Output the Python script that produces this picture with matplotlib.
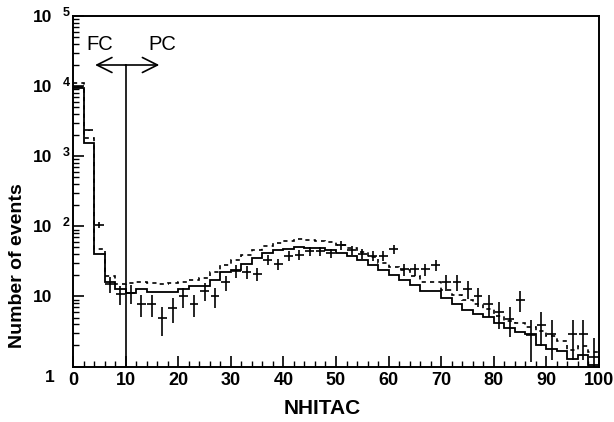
import numpy as np
import matplotlib
matplotlib.use("Agg")
import matplotlib.pyplot as plt
from matplotlib.ticker import FixedLocator, LogLocator, MultipleLocator, NullFormatter
from matplotlib.transforms import ScaledTranslation, blended_transform_factory

plt.rcParams['font.family'] = ['Liberation Sans', 'DejaVu Sans']

# Bin edges: 50 bins of width 2 over NHITAC 0..100
bin_edges = np.arange(0, 101, 2)

# Monte Carlo expectation (solid)
mc_solid = [9550, 1520, 40.7, 16.3, 12.8, 11.1, 12.7, 11.6, 11.6, 11.4,
            12.8, 13.9, 14.3, 16.9, 22.0, 24.0, 29.0, 35.3, 41.5, 46.5,
            48.0, 50.6, 49.6, 49.0, 45.4, 42.0, 38.0, 33.0, 28.5, 24.0,
            20.4, 17.3, 14.6, 11.8, 11.8, 9.5, 7.9, 6.5, 5.6, 5.05,
            4.2, 3.6, 3.08, 2.95, 2.0, 1.8, 1.65, 1.27, 1.46, 1.05]

# Monte Carlo expectation, alternative (dashed)
mc_dashed = [11200, 1830, 47.0, 19.3, 15.0, 15.5, 15.8, 15.3, 14.8, 15.3,
             16.1, 17.1, 18.2, 22.4, 28.3, 32.6, 38.4, 46.5, 52.8, 57.9,
             60.7, 65.8, 64.4, 60.7, 59.1, 54.6, 49.0, 43.0, 36.0, 30.0,
             26.0, 23.5, 19.3, 15.8, 15.8, 12.4, 10.5, 9.0, 7.8, 6.6,
             5.3, 4.5, 4.15, 3.7, 3.2, 2.7, 2.3, 1.7, 1.95, 1.6]

# Observed events at bin centres
data_x = [1, 3, 5, 7, 9, 11, 13, 15, 17, 19,
          21, 23, 25, 27, 29, 31, 33, 35, 37, 39,
          41, 43, 45, 47, 49, 51, 53, 55, 57, 59,
          61, 63, 65, 67, 69, 71, 73, 75, 77, 79,
          81, 83, 85, 87, 89, 91, 95, 97, 99]
data_y = [9800, 2350, 105, 15.1, 10.9, 11.1, 7.8, 7.8, 4.9, 6.8,
          10.0, 7.8, 12.0, 10.0, 15.8, 23.0, 22.3, 20.9, 33.5, 28.9,
          38.2, 39.5, 44.8, 43.9, 41.5, 54.0, 45.5, 40.7, 38.2, 38.2,
          47.4, 24.5, 24.5, 24.5, 28.0, 16.0, 16.0, 12.8, 10.2, 7.8,
          5.9, 4.8, 8.9, 2.85, 3.92, 2.95, 2.95, 2.95, 1.38]

x_ticks = [0, 10, 20, 30, 40, 50, 60, 70, 80, 90, 100]
y_ticks = [1, 10, 1e2, 1e3, 1e4, 1e5]
y_tick_labels = ['1', '10', '10', '10', '10', '10']
y_exponents = ['', '', '2', '3', '4', '5']

fc_pc_cut = 10
arrow_level = 2.0e4

W, H = 614, 422
fig = plt.figure(figsize=(W / 100, H / 100), dpi=100)
L, R, T, B = 73, 599, 16, 366.5
ax = fig.add_axes([L / W, 1 - B / H, (R - L) / W, (B - T) / H])

ax.set_xlim(0, 100)
ax.set_yscale('log')
ax.set_ylim(1, 1e5)

# histograms
ax.stairs(mc_solid, bin_edges, baseline=None, color='black', lw=1.3)
ax.stairs(mc_dashed, bin_edges, baseline=None, color='black', lw=1.2,
          linestyle=(0, (2.5, 2.5)))

# data with Poisson errors
dy = np.sqrt(np.array(data_y))
ax.errorbar(data_x, data_y, yerr=dy, xerr=0.85, fmt='none',
            ecolor='black', elinewidth=1.2, capsize=0)

# FC / PC separation
ax.plot([fc_pc_cut, fc_pc_cut], [1, arrow_level], color='black', lw=1.2)
for x_end in (4.2, 16.4):
    ax.annotate('', xy=(x_end, arrow_level), xytext=(fc_pc_cut, arrow_level),
                arrowprops=dict(arrowstyle='->', lw=1.2, color='black',
                                mutation_scale=27, shrinkA=0, shrinkB=0))
ax.text(5.05, 3.9e4, 'FC', fontsize=14.5, ha='center', va='center')
ax.text(17.05, 3.9e4, 'PC', fontsize=14.5, ha='center', va='center')

# axes styling
for s in ax.spines.values():
    s.set_linewidth(1.4)

ax.xaxis.set_major_locator(FixedLocator(x_ticks))
ax.xaxis.set_minor_locator(MultipleLocator(2))
ax.set_xticklabels([str(v) for v in x_ticks], fontweight='bold', fontsize=13)

ax.yaxis.set_major_locator(FixedLocator(y_ticks))
ax.yaxis.set_minor_locator(LogLocator(base=10, subs=np.arange(2, 10)))
ax.yaxis.set_minor_formatter(NullFormatter())
ax.set_yticklabels(y_tick_labels, fontweight='bold', fontsize=12.5)

ax.tick_params(axis='both', which='both', direction='in', top=False, right=False)
ax.tick_params(axis='both', which='major', length=8, width=1.2)
ax.tick_params(axis='both', which='minor', length=4.5, width=1.0)
ax.tick_params(axis='x', pad=4)
ax.tick_params(axis='y', pad=15)

# push the "1" label down a little, clear of the x labels
lab1 = ax.get_yticklabels()[0]
lab1.set_transform(lab1.get_transform() + ScaledTranslation(0.02, -0.09, fig.dpi_scale_trans))

# exponents of the decade labels
tr = blended_transform_factory(ax.transAxes, ax.transData)
for yv, ex in zip(y_ticks, y_exponents):
    if ex:
        ax.text(-10 / (R - L), yv, ex, transform=tr, fontsize=9,
                fontweight='bold', ha='left', va='baseline')

ax.set_xlabel('NHITAC', fontsize=15, fontweight='bold')
ax.xaxis.set_label_coords((322.5 - L) / (R - L), -(408 - B) / (B - T))
ax.xaxis.label.set_va('center')
ax.set_ylabel('Number of events', fontsize=14, fontweight='bold')
ax.yaxis.set_label_coords(-(L - 17.5) / (R - L), (B - 265.5) / (B - T))
ax.yaxis.label.set_va('center')

fig.savefig('out.png', dpi=100)
